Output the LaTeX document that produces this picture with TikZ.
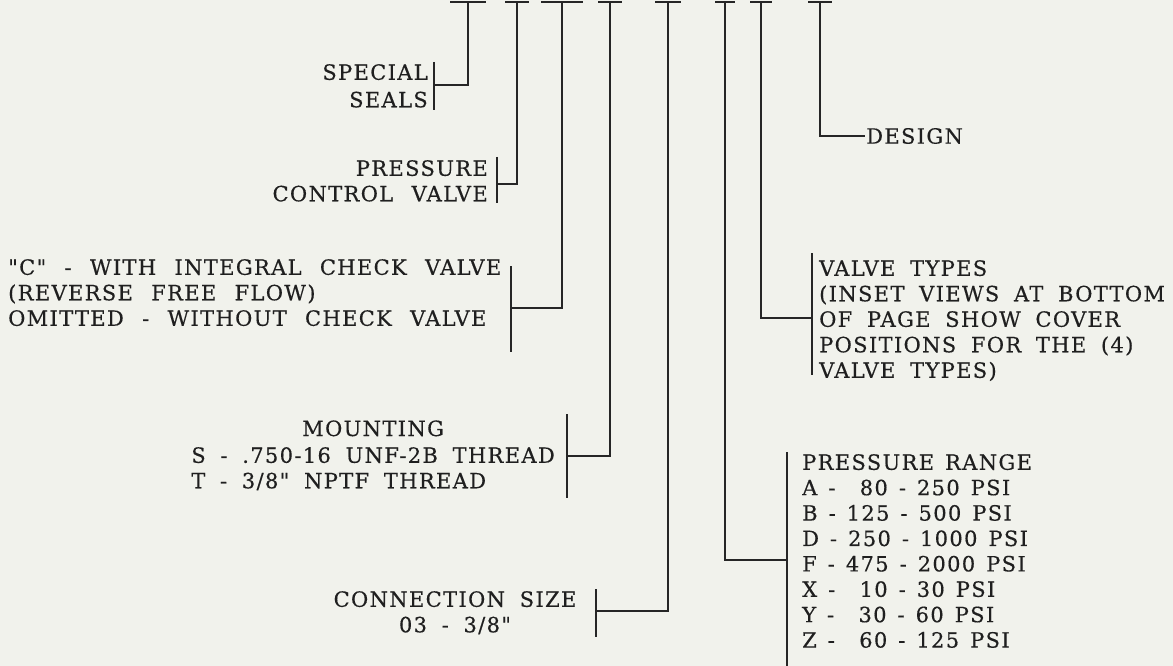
\documentclass[tikz,border=0pt]{standalone}
\usepackage{fontspec}
\newfontfamily\typew{DejaVu Serif}[LetterSpace=6.4,FakeBold=0.4]
\begin{document}
\begin{tikzpicture}[x=1pt,y=-1pt,
  lbl/.style={font=\typew\fontsize{21}{25.5}\selectfont, inner sep=0pt, text=black!88,
    execute at begin node={\spaceskip=18.3pt\relax}},
  midsp/.style={execute at begin node={\spaceskip=14.7pt\relax}},
  narsp/.style={execute at begin node={\spaceskip=11pt\relax}},
  wire/.style={draw=black!85, line width=1.6pt},
  tbar/.style={draw=black!85, line width=1.8pt}]
\useasboundingbox (0,0) rectangle (1173,666);
\fill[fill={rgb,255:red,241;green,242;blue,236}] (0,0) rectangle (1173,666);

% top T stems
\foreach \n/\x/\w in {1/468/18,2/517/12,3/562/21,4/610/12,5/668/13,6/725/10,7/761/11,8/820/12}{
  \coordinate (t\n) at (\x,2);
  \coordinate (tl\n) at (\x-\w,2);
  \coordinate (tr\n) at (\x+\w,2);
  \draw[tbar] (tl\n) -- (tr\n);
}

% corners
\coordinate (c1) at (468,85);  \coordinate (b1) at (434,85);
\coordinate (c2) at (517,184); \coordinate (b2) at (497,184);
\coordinate (c3) at (562,308); \coordinate (b3) at (511,308);
\coordinate (c4) at (610,456); \coordinate (b4) at (567,456);
\coordinate (c5) at (668,611); \coordinate (b5) at (596,611);
\coordinate (c6) at (725,560); \coordinate (b6) at (787,560);
\coordinate (c7) at (761,318); \coordinate (b7) at (812,318);
\coordinate (c8) at (820,136); \coordinate (b8) at (865,136);

\foreach \n in {1,...,8}{\draw[wire] (t\n) -- (c\n) -- (b\n);}

% bars
\coordinate (b1t) at (434,62);  \coordinate (b1b) at (434,110);
\coordinate (b2t) at (497,157); \coordinate (b2b) at (497,203);
\coordinate (b3t) at (511,266); \coordinate (b3b) at (511,352);
\coordinate (b4t) at (567,414); \coordinate (b4b) at (567,498);
\coordinate (b5t) at (596,589); \coordinate (b5b) at (596,637);
\coordinate (b6t) at (787,452); \coordinate (b6b) at (787,666);
\coordinate (b7t) at (812,253); \coordinate (b7b) at (812,375);
\foreach \n in {1,...,7}{\draw[wire] (b\n t) -- (b\n b);}

% labels
\node[lbl, anchor=north east, align=right, font=\typew\fontsize{21}{27.5}\selectfont] (seals) at (428,64) {SPECIAL\\SEALS};
\node[lbl, anchor=north east, align=right] (pcv) at (488,160) {PRESSURE\\CONTROL VALVE};
\node[lbl, anchor=north west, align=left] (check) at (8,259) {"C" - WITH INTEGRAL CHECK VALVE\\(REVERSE FREE FLOW)\\OMITTED - WITHOUT CHECK VALVE};
\node[lbl, midsp, anchor=north east, align=left] (mount) at (555,447) {S - .750-16 UNF-2B THREAD\\T - 3/8" NPTF THREAD};
\node[lbl, anchor=south] (mounthd) at ([yshift=10.5pt]mount.north) {MOUNTING};
\node[lbl, midsp, anchor=north, align=center] (conn) at (455,591) {CONNECTION SIZE\\03 - 3/8"};
\node[lbl, midsp, anchor=north west, align=left] (vtypes) at (819,260) {VALVE TYPES\\(INSET VIEWS AT BOTTOM\\OF PAGE SHOW COVER\\POSITIONS FOR THE (4)\\VALVE TYPES)};
\node[lbl, narsp, anchor=north west, align=left, font=\typew\fontsize{21}{25.4}\selectfont] (range) at (802,454) {PRESSURE RANGE\\A - \hphantom{1}80 - 250 PSI\\B - 125 - 500 PSI\\D - 250 - 1000 PSI\\F - 475 - 2000 PSI\\X - \hphantom{1}10 - 30 PSI\\Y - \hphantom{1}30 - 60 PSI\\Z - \hphantom{1}60 - 125 PSI};
\node[lbl, anchor=west] (design) at (866,136) {DESIGN};
\end{tikzpicture}
\end{document}
